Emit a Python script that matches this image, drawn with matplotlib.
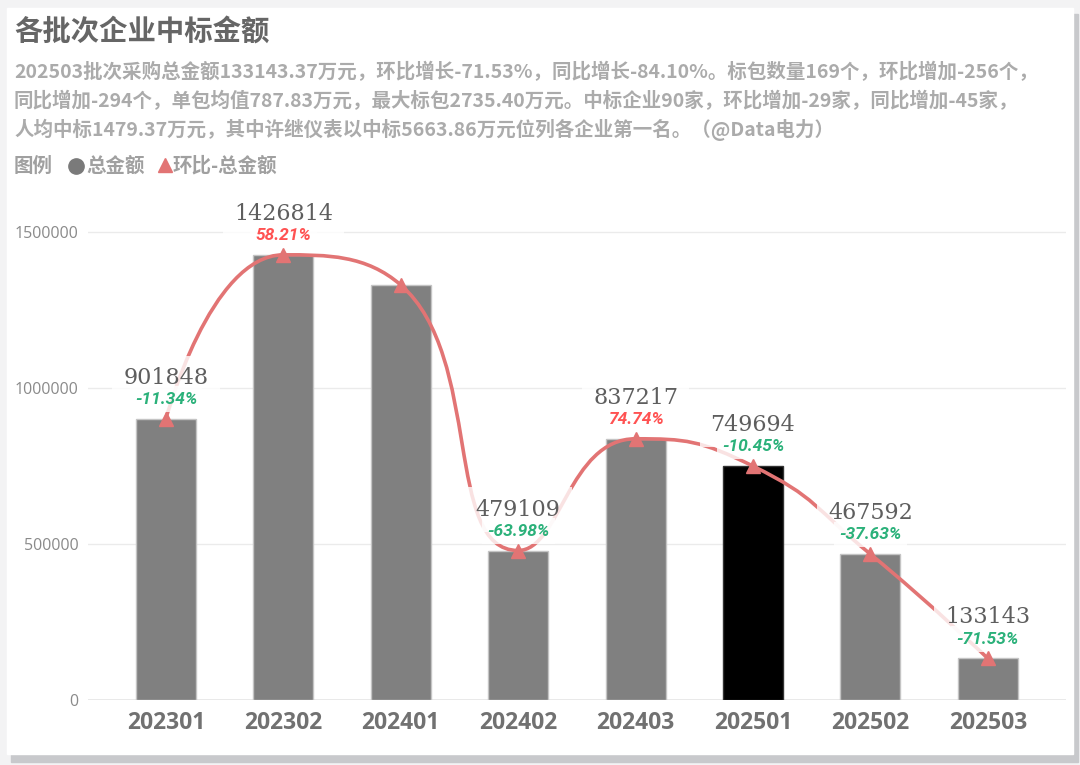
import numpy as np
import matplotlib
matplotlib.use('Agg')
import matplotlib.pyplot as plt
from matplotlib.path import Path
from matplotlib.patches import PathPatch, Rectangle
from matplotlib.lines import Line2D

plt.rcParams['font.family'] = ['Noto Sans CJK SC', 'DejaVu Sans']

# data
batches = ['202301', '202302', '202401', '202402', '202403', '202501', '202502', '202503']
totals = [901848, 1426814, 1330119, 479109, 837217, 749694, 467592, 133143]
mom_pct = [-11.34, 58.21, None, -63.98, 74.74, -10.45, -37.63, -71.53]
show_label = [True, True, False, True, True, True, True, True]
highlight = '202501'
yticks = [0, 500000, 1000000, 1500000]

title = '各批次企业中标金额'
summary = [
    '202503批次采购总金额133143.37万元，环比增长-71.53%，同比增长-84.10%。标包数量169个，环比增加-256个，',
    '同比增加-294个，单包均值787.83万元，最大标包2735.40万元。中标企业90家，环比增加-29家，同比增加-45家，',
    '人均中标1479.37万元，其中许继仪表以中标5663.86万元位列各企业第一名。（@Data电力）',
]
legend_title = '图例'
legend_bar = '总金额'
legend_line = '环比-总金额'

LINE_C = '#e27474'
UP_C = '#ff5252'
DOWN_C = '#2bb17a'

W, H = 1080, 765
fig = plt.figure(figsize=(W / 100, H / 100), dpi=100)
fig.patch.set_facecolor('#f3f3f4')


def fx(x):
    return x / W


def fy(y):
    return 1 - y / H


def smooth_path(disp, smooth=0.5):
    # echarts-like smoothing, done in pixel space, control points clamped
    verts = [disp[0]]
    codes = [Path.MOVETO]
    cp0 = disp[0].copy()
    n = len(disp)
    for i in range(1, n):
        p, c = disp[i - 1], disp[i]
        if i == n - 1:
            cp1 = c.copy()
            nxt_cp0 = c.copy()
        else:
            nx = disp[i + 1]
            v = nx - p
            len_prev = np.hypot(*(c - p))
            len_next = np.hypot(*(nx - c))
            r = len_next / (len_next + len_prev)
            nxt_cp0 = c + v * smooth * r
            nxt_cp0 = np.minimum(nxt_cp0, np.maximum(nx, c))
            nxt_cp0 = np.maximum(nxt_cp0, np.minimum(nx, c))
            v = nxt_cp0 - c
            cp1 = c - v * len_prev / len_next
            cp1 = np.minimum(cp1, np.maximum(p, c))
            cp1 = np.maximum(cp1, np.minimum(p, c))
            v = c - cp1
            nxt_cp0 = c + v * len_next / len_prev
        verts += [cp0, cp1, c]
        codes += [Path.CURVE4] * 3
        cp0 = nxt_cp0
    return np.array(verts), codes


# card with a soft shadow
fig.add_artist(Rectangle((fx(11), fy(762)), fx(1078) - fx(11), fy(14) - fy(762),
                         transform=fig.transFigure, color='#c8c9cc', zorder=-3))
fig.add_artist(Rectangle((fx(7), fy(754)), fx(1073) - fx(7), fy(8) - fy(754),
                         transform=fig.transFigure, color='white', zorder=-2))

# header texts
fig.text(fx(14), fy(32), title, fontsize=20.4, fontweight='bold', color='#666666', va='center')
for i, line in enumerate(summary):
    fig.text(fx(14), fy(72 + 29 * i), line, fontsize=14, fontweight='bold',
             color='#ababab', va='center')

fig.text(fx(14), fy(166), legend_title, fontsize=14, fontweight='bold', color='#a0a0a0', va='center')
fig.add_artist(Line2D([fx(76)], [fy(166)], marker='o', ms=11, color='#7a7a7a',
                      transform=fig.transFigure))
fig.text(fx(86), fy(166), legend_bar, fontsize=14, fontweight='bold', color='#a0a0a0', va='center')
fig.add_artist(Line2D([fx(165)], [fy(165)], marker='^', ms=10, color=LINE_C,
                      transform=fig.transFigure))
fig.text(fx(173), fy(166), legend_line, fontsize=14, fontweight='bold', color='#a0a0a0', va='center')

# chart area
ax = fig.add_axes([fx(88), fy(700), fx(1066) - fx(88), fy(195) - fy(700)])
ax.set_facecolor('none')
x = np.arange(len(batches))
ax.set_xlim(-0.664, 7.666)
ax.set_ylim(0, 1618590)

colors = ['#000000' if b == highlight else '#808080' for b in batches]
edges = ['#333333' if b == highlight else '#c4c4c4' for b in batches]
ax.bar(x, totals, width=0.51, color=colors, edgecolor=edges, linewidth=1, zorder=2)

# smooth line through the bar tops
disp = ax.transData.transform(np.column_stack([x, totals]).astype(float))
verts, codes = smooth_path(disp)
verts = ax.transData.inverted().transform(verts)
ax.add_patch(PathPatch(Path(verts, codes), fill=False, edgecolor=LINE_C, lw=2.6,
                       capstyle='round', zorder=3))
ax.plot(x, totals, ls='none', marker='^', ms=10, color=LINE_C, zorder=5)

# labels
box = dict(boxstyle='square,pad=0.5', fc='white', ec='none', alpha=0.8)
for i, v in enumerate(totals):
    if not show_label[i]:
        continue
    ax.annotate(f'{v}', (i, v), xytext=(0, 29.5), textcoords='offset points',
                ha='center', va='center', fontsize=16, family='DejaVu Serif',
                color='#5e5e5e', bbox=box, zorder=4)
    p = mom_pct[i]
    if p is not None:
        ax.annotate(f'{p:.2f}%', (i, v), xytext=(0, 14), textcoords='offset points',
                    ha='center', va='center', fontsize=12.5, family=['Roboto', 'DejaVu Sans'],
                    fontstyle='italic', fontweight='bold',
                    color=UP_C if p > 0 else DOWN_C,
                    bbox=dict(boxstyle='square,pad=0.3', fc='white', ec='none', alpha=0.8),
                    zorder=4)

ax.set_yticks(yticks, [str(t) for t in yticks], fontsize=11.5, color='#8a8a8a',
              family=['Open Sans', 'DejaVu Sans'])
ax.set_xticks(x, batches, fontsize=16.5, fontweight='bold', color='#717171',
              family=['Open Sans', 'DejaVu Sans'])
ax.tick_params(axis='y', length=0, pad=7)
ax.tick_params(axis='x', length=0, pad=8)
ax.grid(axis='y', color='#ebebeb', lw=1, zorder=0)
ax.set_axisbelow(True)
for s in ax.spines.values():
    s.set_visible(False)
ax.axhline(0, color='#e6e6e6', lw=1.2, zorder=1)

fig.savefig('out.png', dpi=100, facecolor=fig.get_facecolor())
